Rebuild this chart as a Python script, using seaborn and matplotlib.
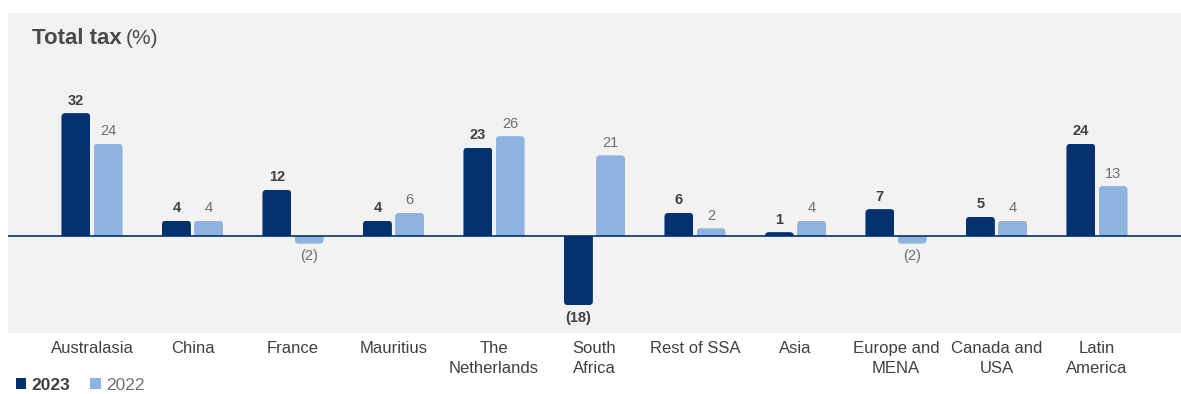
import matplotlib
matplotlib.use("Agg")
import matplotlib.pyplot as plt
import seaborn as sns
import pandas as pd
from matplotlib.patches import FancyBboxPatch, Rectangle, Patch

categories = ["Australasia", "China", "France", "Mauritius", "The\nNetherlands",
              "South\nAfrica", "Rest of SSA", "Asia", "Europe and\nMENA",
              "Canada and\nUSA", "Latin\nAmerica"]
values_2023 = [32, 4, 12, 4, 23, -18, 6, 1, 7, 5, 24]
values_2022 = [24, 4, -2, 6, 26, 21, 2, 4, -2, 4, 13]
series = ["2023", "2022"]

NAVY = "#03306f"
LIGHT = "#8fb3df"
BG = "#f2f2f2"
DARK_TXT = "#404040"
GRAY_TXT = "#6e6e6e"

df = pd.DataFrame({
    "category": categories * 2,
    "year": ["2023"] * len(categories) + ["2022"] * len(categories),
    "value": values_2023 + values_2022,
})

sns.set_theme(style="white")
plt.rcParams["font.family"] = ["Liberation Sans", "DejaVu Sans"]

W, H = 1181, 394
fig = plt.figure(figsize=(W / 100, H / 100), dpi=100)
ax = fig.add_axes([8 / W, (H - 333) / H, (W - 8) / W, 320 / H])
ax.set_facecolor(BG)

sns.barplot(data=df, x="category", y="value", hue="year", hue_order=series,
            palette=[NAVY, LIGHT], width=0.64, gap=0.1, ax=ax, legend=False,
            saturation=1, linewidth=0, order=categories)

ax.set_xlim(-0.836, 10.836)
ax.set_ylim(-25.26, 58.07)
ax.axhline(0, color=NAVY, lw=1.2, zorder=3)

# rounded tips on bars (clipped so baseline side stays square)
px_x = 1181 - 8
ux = (10.836 + 0.836) / px_x
uy = (58.07 + 25.26) / 320
r_px = 4
rx = r_px * ux
aspect = uy / ux
for p in list(ax.patches):
    x0, y0 = p.get_x(), p.get_y()
    w, h = p.get_width(), p.get_height()
    fc = p.get_facecolor()
    ylo, yhi = min(y0, y0 + h), max(y0, y0 + h)
    if yhi > 0:
        by0, bh = ylo - r_px * uy * 2, (yhi - ylo) + r_px * uy * 2
    else:
        by0, bh = ylo, (yhi - ylo) + r_px * uy * 2
    fp = FancyBboxPatch((x0, by0), w, bh,
                        boxstyle=f"round,pad=0,rounding_size={rx}",
                        mutation_aspect=aspect, facecolor=fc, edgecolor="none",
                        zorder=2)
    clip = Rectangle((x0, ylo), w, yhi - ylo, transform=ax.transData)
    ax.add_patch(fp)
    fp.set_clip_path(clip)
    p.set_visible(False)

def fmt(v):
    return f"({abs(v)})" if v < 0 else f"{v}"

for cont, vals, col, wt in zip(ax.containers, [values_2023, values_2022],
                               [DARK_TXT, GRAY_TXT], ["bold", "normal"]):
    ax.bar_label(cont, labels=[fmt(v) for v in vals], padding=4,
                 fontsize=10.5, color=col, fontweight=wt)

ax.set_xticks(range(len(categories)))
ax.set_xticklabels(categories, fontsize=12, color=DARK_TXT, linespacing=1.4)
ax.tick_params(axis="x", length=0, pad=6)
ax.set_yticks([])
ax.set_xlabel("")
ax.set_ylabel("")
for s in ax.spines.values():
    s.set_visible(False)

# title
t1 = fig.text(32 / W, 1 - 38 / H, "Total tax", fontsize=16, fontweight="bold",
              color="#4a4a4a", va="center", ha="left")
fig.canvas.draw()
bb = t1.get_window_extent()
fig.text((bb.x1 + 4) / W, 1 - 38 / H, "(%)", fontsize=15, color="#4a4a4a",
         va="center", ha="left")

# legend
handles = [Patch(facecolor=NAVY, edgecolor="none"), Patch(facecolor=LIGHT, edgecolor="none")]
leg = fig.legend(handles, series, loc="center left",
                 bbox_to_anchor=(16 / W, 1 - 385 / H), ncol=2, frameon=False,
                 handlelength=0.6, handleheight=0.6, handletextpad=0.3,
                 columnspacing=1.15, fontsize=12.5, borderpad=0, borderaxespad=0)
for txt, c, wt in zip(leg.get_texts(), [DARK_TXT, GRAY_TXT], ["bold", "normal"]):
    txt.set_color(c)
    txt.set_fontweight(wt)

fig.savefig("out.png", dpi=100, facecolor="white")
